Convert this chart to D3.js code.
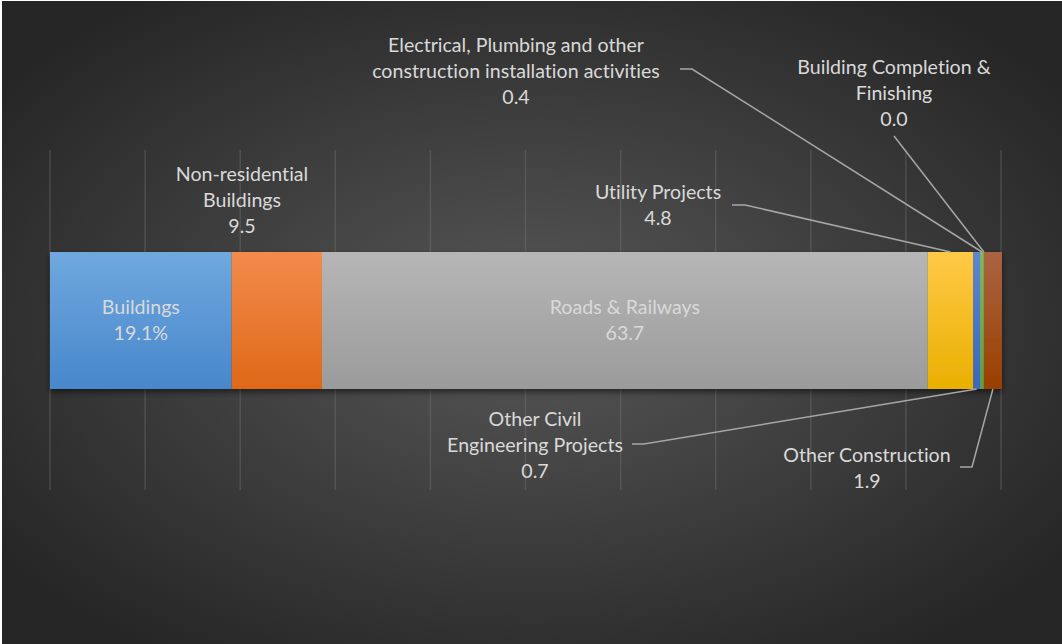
<!DOCTYPE html>
<html>
<head>
<meta charset="utf-8">
<script src="https://cdn.jsdelivr.net/npm/d3@7"></script>
<style>
  html, body { margin: 0; padding: 0; background: #ffffff; }
  svg { display: block; }
  text { font-variant-ligatures: none; }
</style>
</head>
<body>
<svg id="chart" width="1062" height="644"></svg>
<script>
// ---- data ----
const categories = [
  "Buildings",
  "Non-residential Buildings",
  "Roads & Railways",
  "Utility Projects",
  "Other Civil Engineering Projects",
  "Electrical, Plumbing and other construction installation activities",
  "Building Completion & Finishing",
  "Other Construction"
];
const values = [19.1, 9.5, 63.7, 4.8, 0.7, 0.4, 0.0, 1.9];
const valueLabels = ["19.1%", "9.5", "63.7", "4.8", "0.7", "0.4", "0.0", "1.9"];
const tickValues = [0, 10, 20, 30, 40, 50, 60, 70, 80, 90, 100];

// ---- styles / layout ----
const colorsTop = ["#70a8de", "#f38b4c", "#b6b6b6", "#ffc948", "#5d86d2", "#80bb5b", "#2f5290", "#ab6342"];
const colorsBot = ["#4787cc", "#df6818", "#9b9b9b", "#e9b000", "#3a66c0", "#60a03e", "#1d3a6e", "#993f00"];
const textColor = "#d9d9d9";
const leaderColor = "#a6a6a6";

// label layout: name lines, centre x, first baseline, leader polyline (label side), bar side ("top"/"bottom")
const labelLayout = [
  { inside: true, lines: ["Buildings"], cx: null, y0: 314 },
  { lines: ["Non-residential", "Buildings"], cx: 242, y0: 181 },
  { inside: true, lines: ["Roads & Railways"], cx: null, y0: 314 },
  { lines: ["Utility Projects"], cx: 658, y0: 199, leader: [[732, 205], [745, 205]], side: "top" },
  { lines: ["Other Civil", "Engineering Projects"], cx: 535, y0: 426, leader: [[632, 444], [644, 444]], side: "bottom" },
  { lines: ["Electrical, Plumbing and other", "construction installation activities"], cx: 516, y0: 52, leader: [[680, 69], [692, 69]], side: "top" },
  { lines: ["Building Completion &", "Finishing"], cx: 894, y0: 74, leader: [[894, 136]], side: "top" },
  { lines: ["Other Construction"], cx: 867, y0: 462, leader: [[960, 467], [972, 467]], side: "bottom" }
];

const W = 1062, H = 644;
const svg = d3.select("#chart");
const defs = svg.append("defs");

const bg = defs.append("radialGradient").attr("id", "bg")
  .attr("cx", "50%").attr("cy", "50%").attr("r", "62%");
bg.append("stop").attr("offset", "0%").attr("stop-color", "#575757");
bg.append("stop").attr("offset", "100%").attr("stop-color", "#262626");

svg.append("rect").attr("x", 2).attr("y", 1).attr("width", W - 2).attr("height", H - 1)
  .attr("fill", "url(#bg)");

values.forEach((v, i) => {
  const g = defs.append("linearGradient").attr("id", "g" + i)
    .attr("x1", 0).attr("y1", 0).attr("x2", 0).attr("y2", 1);
  g.append("stop").attr("offset", "0%").attr("stop-color", colorsTop[i]);
  g.append("stop").attr("offset", "100%").attr("stop-color", colorsBot[i]);
});

const shadow = defs.append("filter").attr("id", "shadow")
  .attr("x", "-5%").attr("y", "-20%").attr("width", "110%").attr("height", "150%");
shadow.append("feDropShadow").attr("dx", 0).attr("dy", 3).attr("stdDeviation", 3)
  .attr("flood-color", "#000").attr("flood-opacity", 0.55);

const x = d3.scaleLinear().domain([0, 100]).range([50, 1001]);
const barY0 = 252, barY1 = 389;

// gridlines
svg.append("g").selectAll("line").data(tickValues).join("line")
  .attr("x1", d => x(d)).attr("x2", d => x(d))
  .attr("y1", 150).attr("y2", 490)
  .attr("stroke", "#7a7a7a").attr("stroke-opacity", 0.35).attr("stroke-width", 1.5);

// stack
const starts = [];
let acc = 0;
values.forEach(v => { starts.push(acc); acc += v; });
const segs = values.map((v, i) => ({ i, start: starts[i], end: starts[i] + v }));

const barG = svg.append("g").attr("filter", "url(#shadow)");
barG.selectAll("rect").data(segs).join("rect")
  .attr("x", d => x(d.start))
  .attr("width", d => Math.max(0, x(d.end) - x(d.start)))
  .attr("y", barY0).attr("height", barY1 - barY0)
  .attr("fill", d => `url(#g${d.i})`);

const fontFamily = "Lato, 'Open Sans', sans-serif";
const fontSize = 19.6;
const lh = 26;

// leaders
const lineGen = d3.line();
segs.forEach(d => {
  const L = labelLayout[d.i];
  if (!L.leader) return;
  const mid = x((d.start + d.end) / 2);
  const endY = L.side === "top" ? barY0 : barY1;
  const pts = L.leader.concat([[mid, endY]]);
  svg.append("path").attr("d", lineGen(pts))
    .attr("fill", "none").attr("stroke", leaderColor).attr("stroke-width", 1.5);
});

// labels
const labG = svg.append("g").attr("font-family", fontFamily).attr("font-size", fontSize)
  .attr("fill", textColor).attr("text-anchor", "middle");
segs.forEach(d => {
  const L = labelLayout[d.i];
  const cx = L.cx == null ? x((d.start + d.end) / 2) : L.cx;
  const lines = L.lines.concat([valueLabels[d.i]]);
  const t = labG.append("text").attr("x", cx).attr("y", L.y0);
  lines.forEach((s, k) => {
    t.append("tspan").attr("x", cx).attr("y", L.y0 + k * lh).text(s);
  });
});
</script>
</body>
</html>
